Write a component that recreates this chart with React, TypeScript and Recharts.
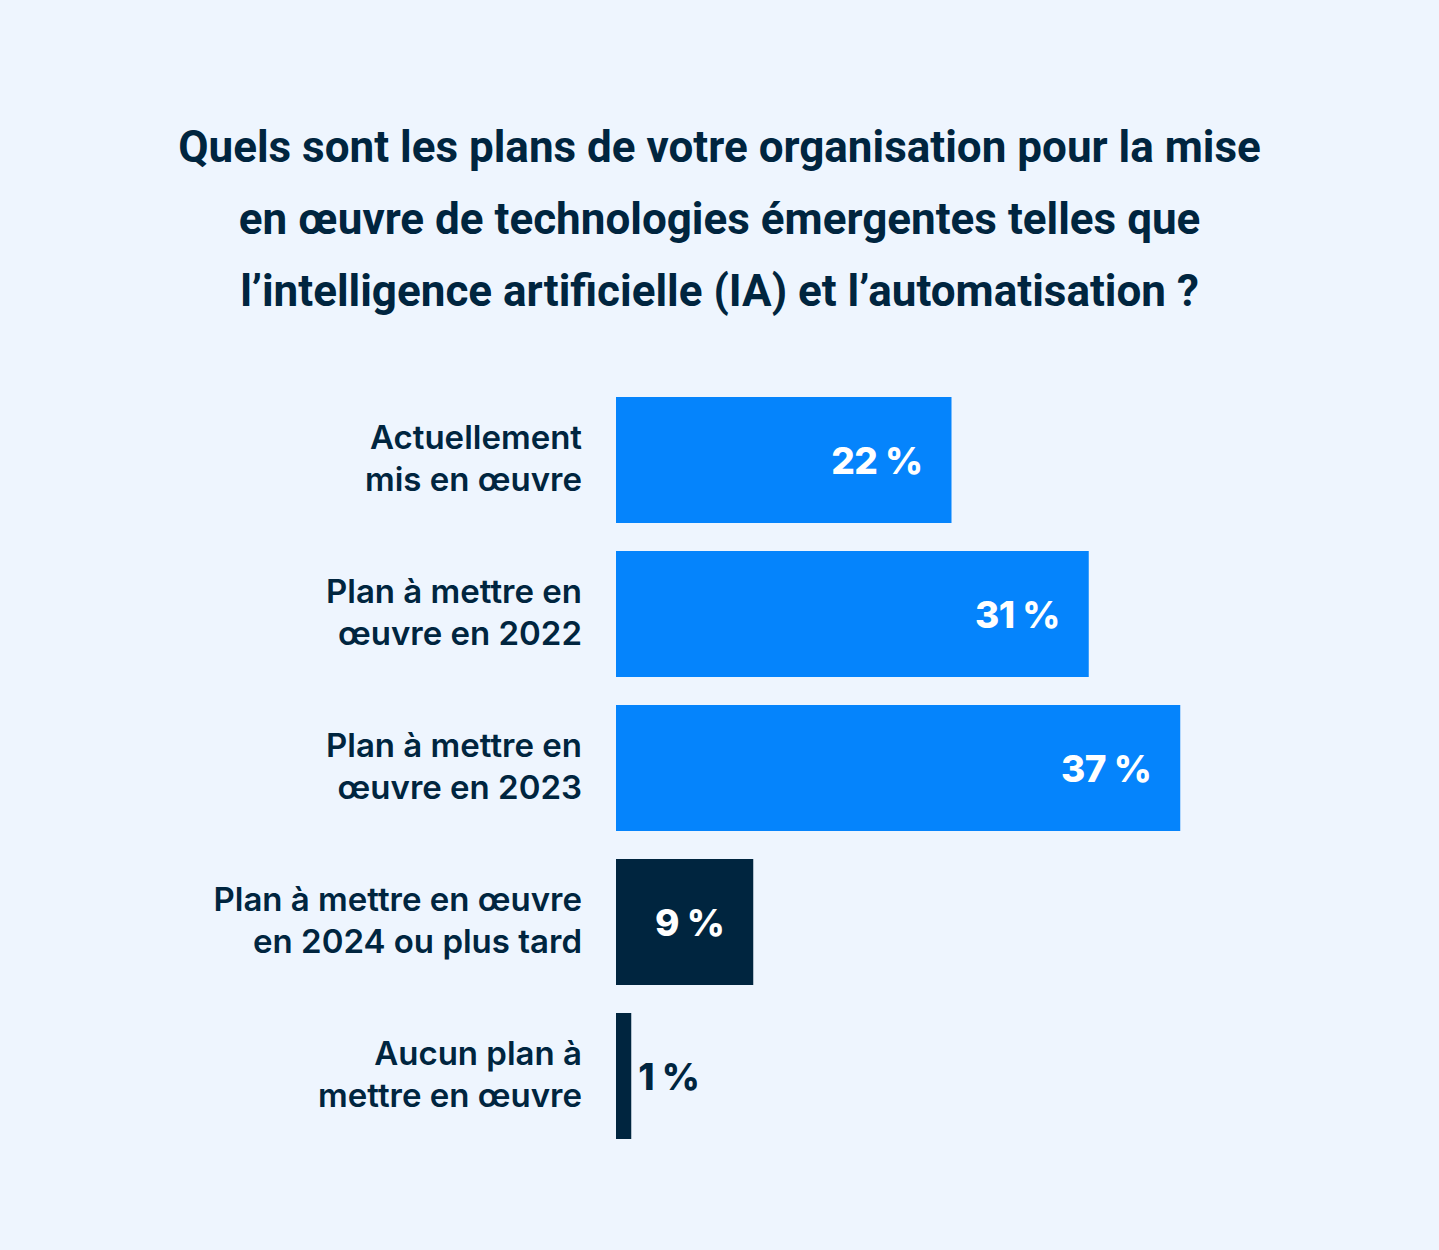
import { BarChart, Bar, XAxis, YAxis, Cell, LabelList } from 'recharts'

const categories = [
    'Actuellement\nmis en œuvre',
    'Plan à mettre en\nœuvre en 2022',
    'Plan à mettre en\nœuvre en 2023',
    'Plan à mettre en œuvre\nen 2024 ou plus tard',
    'Aucun plan à\nmettre en œuvre',
]
const values = [22, 31, 37, 9, 1]
const barColors = ['#0584FC', '#0584FC', '#0584FC', '#00253F', '#00253F']
const titleLines = [
    'Quels sont les plans de votre organisation pour la mise',
    'en œuvre de technologies émergentes telles que',
    'l’intelligence artificielle (IA) et l’automatisation ?',
]

const NAVY = '#00253F'
const BG = '#EEF5FE'

const data = categories.map((name, i) => ({ name, value: values[i] }))

const CategoryTick = (props: any) => {
    const { x, y, payload } = props
    const lines = String(payload.value).split('\n')
    const lineH = 42
    const start = y - ((lines.length - 1) * lineH) / 2 - 2
    return (
        <text
            x={x - 26}
            y={start}
            textAnchor="end"
            fill={NAVY}
            fontFamily="Inter"
            fontWeight={600}
            fontSize={33}
            letterSpacing={0}
        >
            {lines.map((l, i) => (
                <tspan key={i} x={x - 26} y={start + i * lineH} dominantBaseline="central">{l}</tspan>
            ))}
        </text>
    )
}

const ValueLabel = (props: any) => {
    const { x, y, width, height, value } = props
    const inside = width > 80
    return (
        <text
            x={inside ? x + width - 29 : x + width + 7}
            y={y + height / 2}
            textAnchor={inside ? 'end' : 'start'}
            dominantBaseline="central"
            fill={inside ? '#FFFFFF' : NAVY}
            fontFamily="Inter"
            fontWeight={800}
            fontSize={37}
            letterSpacing={-0.5}
        >
            {`${value} %`}
        </text>
    )
}

export default function App() {
    return (
        <div style={{ position: 'absolute', left: 0, top: 0, width: 1439, height: 1250, background: BG, overflow: 'hidden' }}>
            <div style={{
                position: 'absolute', top: 111, left: 0, width: 1439, textAlign: 'center',
                fontFamily: 'Roboto', fontWeight: 700, fontSize: 44, lineHeight: '72px', color: NAVY,
            }}>
                {titleLines.map((l, i) => <div key={i}>{l}</div>)}
            </div>
            <div style={{ position: 'absolute', left: 0, top: 0 }}>
                <BarChart
                    width={1439}
                    height={1250}
                    data={data}
                    layout="vertical"
                    margin={{ top: 383, right: 213, bottom: 97, left: 0 }}
                    barCategoryGap={14}
                >
                    <XAxis type="number" domain={[0, 40]} hide />
                    <YAxis
                        type="category"
                        dataKey="name"
                        width={616}
                        axisLine={false}
                        tickLine={false}
                        tick={<CategoryTick />}
                        interval={0}
                    />
                    <Bar dataKey="value" isAnimationActive={false}>
                        {data.map((d, i) => (
                            <Cell key={d.name} fill={barColors[i]} />
                        ))}
                        <LabelList dataKey="value" content={<ValueLabel />} />
                    </Bar>
                </BarChart>
            </div>
        </div>
    )
}
